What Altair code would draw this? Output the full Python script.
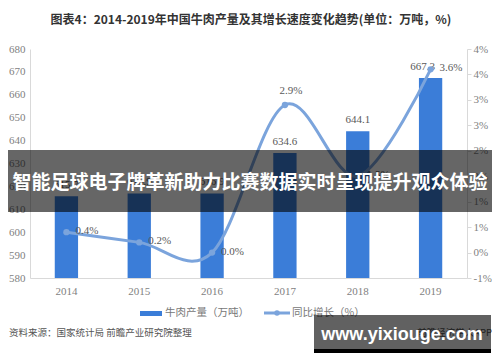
import altair as alt
import pandas as pd

# ---------------- data ----------------
years = ["2014", "2015", "2016", "2017", "2018", "2019"]
production = [615.7, 616.9, 616.9, 634.6, 644.1, 667.3]   # 万吨
growth = [0.4, 0.2, 0.0, 2.9, 1.5, 3.6]                     # %
growth_label_above = ["2017"]
bar_label_left = ["2019"]
left_ticks = [580, 590, 600, 610, 620, 630, 640, 650, 660, 670, 680]
right_ticks = [-0.5, 0.0, 0.5, 1.0, 1.5, 2.0, 2.5, 3.0, 3.5, 4.0]

title_text = "图表4：2014-2019年中国牛肉产量及其增长速度变化趋势(单位：万吨，%)"
legend_bar = "牛肉产量（万吨）"
legend_line = "同比增长（%）"
source_text = "资料来源：国家统计局 前瞻产业研究院整理"
app_text = "前瞻经济学人APP"
banner_text = "智能足球电子牌革新助力比赛数据实时呈现提升观众体验"
watermark_text = "www.yixiouge.com"

df = pd.DataFrame({"year": years, "production": production, "growth": growth})
df["above"] = df["year"].isin(growth_label_above)
df["bleft"] = df["year"].isin(bar_label_left)

BAR = "#3b7dd8"
LINE = "#7ba4dc"
AXIS_C = "#d9d9d9"
LAB_C = "#7f7f7f"
NUM_FONT = "Liberation Serif"
CJK = "Noto Sans CJK SC"

W, H = 437, 229

xenc = alt.X("year:N", title=None,
             scale=alt.Scale(paddingInner=0.68, paddingOuter=0.34),
             axis=alt.Axis(labelAngle=0, ticks=False, domainColor=AXIS_C,
                           labelColor=LAB_C, labelFont=NUM_FONT, labelFontSize=11,
                           labelPadding=7))
xline = alt.X("year:N", bandPosition=0.5, title=None)

yl = alt.Y("production:Q", title=None,
           scale=alt.Scale(domain=[580, 680], nice=False, zero=False),
           axis=alt.Axis(values=left_ticks, grid=False, ticks=False,
                         domainColor=AXIS_C, labelColor=LAB_C, labelFont=NUM_FONT,
                         labelFontSize=11, labelPadding=5))
yr = alt.Y("growth:Q", title=None,
           scale=alt.Scale(domain=[-0.5, 4.0], nice=False, zero=False),
           axis=alt.Axis(orient="right", values=right_ticks, grid=False,
                         tickSize=4, tickColor=AXIS_C, domainColor=AXIS_C,
                         labelColor=LAB_C, labelFont=NUM_FONT, labelFontSize=11,
                         labelPadding=2,
                         labelExpr="(datum.value < 0 ? '-' + round(abs(datum.value)) : '' + round(datum.value)) + '%'"))

base = alt.Chart(df)

bars = base.mark_bar(color=BAR, clip=True).encode(x=xenc, y=yl)
bar_labels = base.transform_filter("!datum.bleft").mark_text(
    dy=-11, font=NUM_FONT, fontSize=11, color="#595959").encode(
    x=xenc, y=yl, text=alt.Text("production:Q", format=".1f"))
bar_labels_l = base.transform_filter("datum.bleft").mark_text(
    dy=-11, dx=-8, font=NUM_FONT, fontSize=11, color="#595959").encode(
    x=xenc, y=yl, text=alt.Text("production:Q", format=".1f"))
left = alt.layer(bars, bar_labels, bar_labels_l)

line = base.mark_line(color=LINE, strokeWidth=3, interpolate="cardinal").encode(x=xline, y=yr)
pts = base.mark_circle(color=LINE, size=40, opacity=1).encode(x=xline, y=yr)
glab_right = base.transform_filter("!datum.above").transform_calculate(
    lab="format(datum.growth, '.1f') + '%'").mark_text(
    align="left", dx=9, dy=-1, font=NUM_FONT, fontSize=11, color="#595959").encode(
    x=xline, y=yr, text="lab:N")
glab_top = base.transform_filter("datum.above").transform_calculate(
    lab="format(datum.growth, '.1f') + '%'").mark_text(
    align="center", dx=6, dy=-14, font=NUM_FONT, fontSize=11, color="#595959").encode(
    x=xline, y=yr, text="lab:N")
right = alt.layer(line, pts, glab_right, glab_top)

main = alt.layer(left, right).resolve_scale(y="independent")


def one(text):
    return alt.Chart(pd.DataFrame({"t": [text]}))


title = one(title_text).mark_text(font=CJK, fontSize=12, fontWeight="bold",
                                  color="#333333", align="center", baseline="middle").encode(
    x=alt.value(221), y=alt.value(-29), text="t:N")

leg_rect = one("").mark_rect(color=BAR).encode(
    x=alt.value(110), x2=alt.value(132), y=alt.value(262), y2=alt.value(267))
leg_text1 = one(legend_bar).mark_text(font=CJK, fontSize=10.5, color="#777777",
                                      align="left", baseline="middle").encode(
    x=alt.value(135), y=alt.value(264), text="t:N")
leg_rule = one("").mark_rule(color=LINE, strokeWidth=3).encode(
    x=alt.value(234), x2=alt.value(260), y=alt.value(264))
leg_dot = one("").mark_circle(color=LINE, size=30, opacity=1).encode(
    x=alt.value(247), y=alt.value(264))
leg_text2 = one(legend_line).mark_text(font=CJK, fontSize=10.5, color="#777777",
                                       align="left", baseline="middle").encode(
    x=alt.value(262), y=alt.value(264), text="t:N")

source = one(source_text).mark_text(font=CJK, fontSize=9.5, color="#555555",
                                    align="left", baseline="middle").encode(
    x=alt.value(-21), y=alt.value(284), text="t:N")
app = one(app_text).mark_text(font=CJK, fontSize=9.5, color="#555555",
                              align="right", baseline="middle").encode(
    x=alt.value(462), y=alt.value(284), text="t:N")

banner = one("").mark_rect(color="#000000", opacity=0.6).encode(
    x=alt.value(-22), x2=alt.value(462), y=alt.value(101), y2=alt.value(163))
banner_t = one(banner_text).mark_text(font=CJK, fontSize=19, fontWeight="bold",
                                      color="#ffffff", align="center",
                                      baseline="middle").encode(
    x=alt.value(220), y=alt.value(134), text="t:N")

wm_box = one("").mark_rect(color="#000000", opacity=0.62).encode(
    x=alt.value(284), x2=alt.value(461), y=alt.value(266), y2=alt.value(300))
wm_strip = one("").mark_rect(color="#000000").encode(
    x=alt.value(284), x2=alt.value(461), y=alt.value(300), y2=alt.value(304))
wm_t = one(watermark_text).mark_text(font="Liberation Sans", fontSize=18,
                                     fontWeight="bold", color="#ffffff",
                                     align="center", baseline="middle").encode(
    x=alt.value(372), y=alt.value(286), text="t:N")

chart = alt.layer(
    main, title, leg_rect, leg_text1, leg_rule, leg_dot, leg_text2,
    source, app, banner, banner_t, wm_box, wm_strip, wm_t
).properties(
    width=W, height=H,
    autosize=alt.AutoSizeParams(type="none"),
    padding={"left": 22, "top": 41, "right": 25, "bottom": 76},
    background="#ffffff",
).configure_view(stroke=None)

chart.save("out.html", embed_options={"renderer": "svg", "actions": False})
